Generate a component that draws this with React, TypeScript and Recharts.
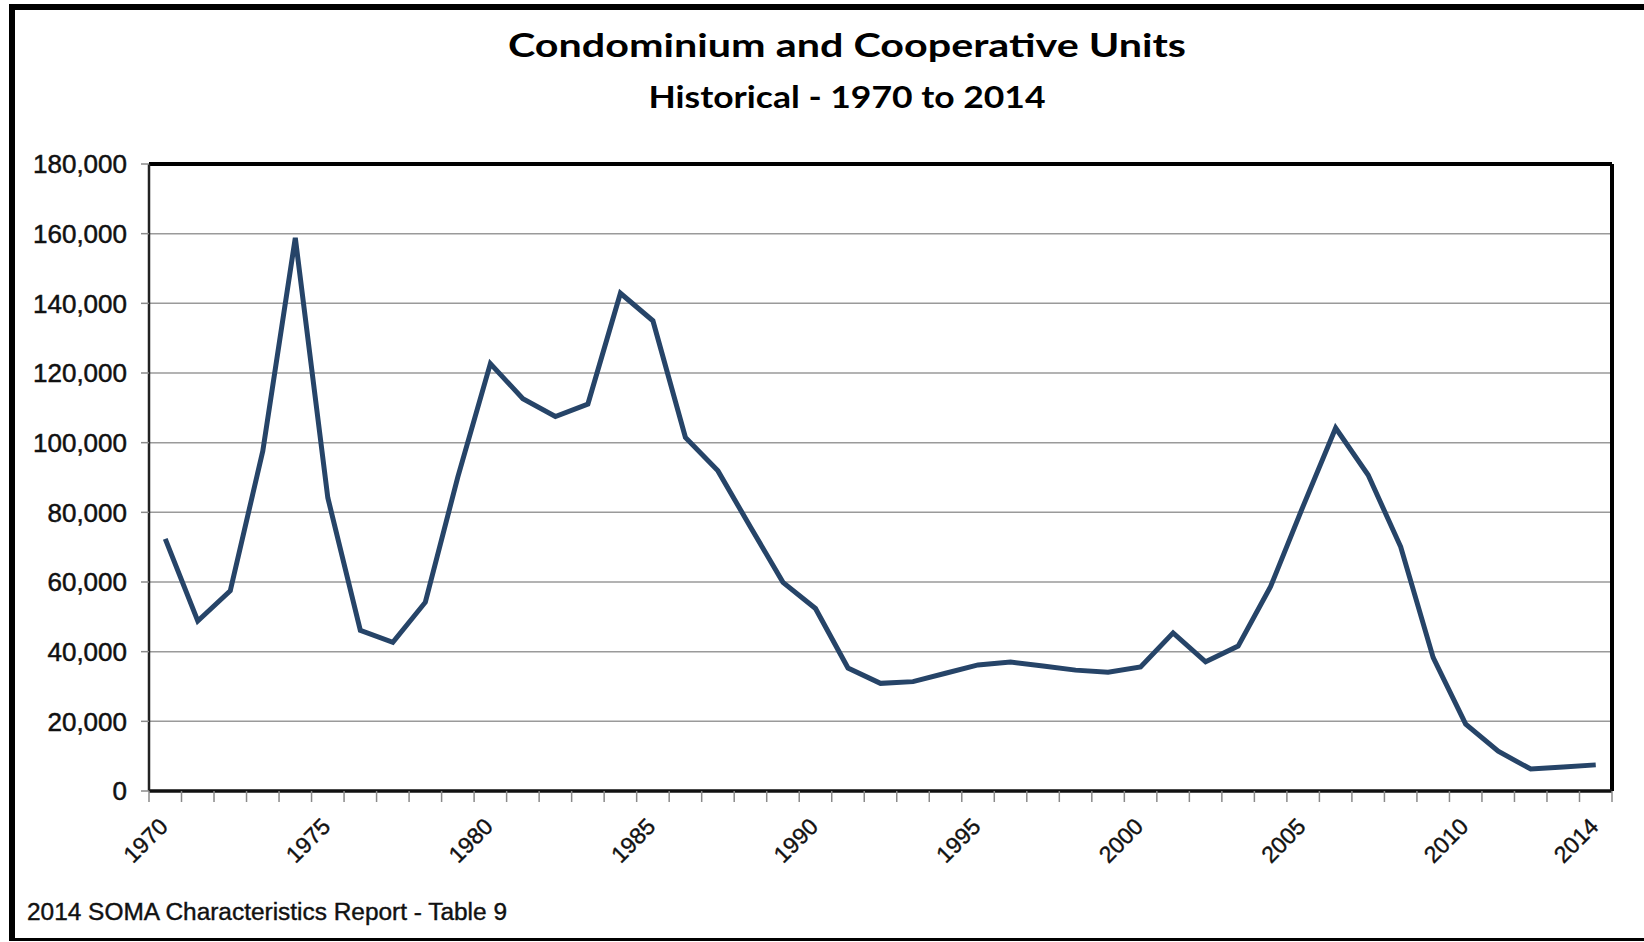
import React from "react";
import { LineChart, Line, XAxis, YAxis, CartesianGrid, ReferenceLine } from "recharts";

// Condominium and Cooperative Units, 1970-2014
const years = [
  1970, 1971, 1972, 1973, 1974, 1975, 1976, 1977, 1978, 1979,
  1980, 1981, 1982, 1983, 1984, 1985, 1986, 1987, 1988, 1989,
  1990, 1991, 1992, 1993, 1994, 1995, 1996, 1997, 1998, 1999,
  2000, 2001, 2002, 2003, 2004, 2005, 2006, 2007, 2008, 2009,
  2010, 2011, 2012, 2013, 2014,
];
const units = [
  72400, 48800, 57500, 97600, 158800, 84200, 46100, 42700, 54200, 90200,
  122700, 112600, 107500, 111100, 142900, 135000, 101500, 91900, 75800, 59900,
  52400, 35300, 30900, 31400, 33800, 36200, 37000, 35900, 34700, 34100,
  35600, 45400, 37100, 41600, 58700, 81800, 104200, 90700, 70100, 38300,
  19200, 11400, 6300, 6900, 7500,
];
const labelledYears = [1970, 1975, 1980, 1985, 1990, 1995, 2000, 2005, 2010, 2014];
const yTicks = [0, 20000, 40000, 60000, 80000, 100000, 120000, 140000, 160000, 180000];

const title = "Condominium  and  Cooperative  Units";
const subtitle = "Historical - 1970 to 2014";
const footer = "2014 SOMA Characteristics Report - Table 9";

const W = 1644;
const H = 942;
const margin = { top: 164, right: 32, bottom: 71, left: 49 };
const Y_AXIS_W = 100;
const X_AXIS_H = 80;
const plotLeft = margin.left + Y_AXIS_W;
const plotRight = W - margin.right;
const halfBand = (plotRight - plotLeft) / years.length / 2;

const data = years.map((year, i) => ({ year, units: units[i] }));
// tick marks sit between the years, like Excel's category axis
const xBoundaries = [...years.map((y) => y - 0.5), years[years.length - 1] + 0.5];

const fmt = (v: number) => v.toLocaleString("en-US");
const textFont = "'Liberation Sans', Arial, sans-serif";

function YearTick(props: any) {
  const { x, y, payload } = props;
  const year = Math.round(payload.value + 0.5);
  if (!labelledYears.includes(year)) return <g />;
  const tx = x + halfBand + 4;
  const ty = y + 26;
  return (
    <text
      x={tx}
      y={ty}
      textAnchor="end"
      transform={`rotate(-45, ${tx}, ${ty})`}
      fontFamily={textFont}
      fontSize={23}
      fill="#111"
      stroke="#111"
      strokeWidth={0.4}
    >
      {year}
    </text>
  );
}

export default function App() {
  return (
    <div style={{ position: "absolute", left: 0, top: 0, width: W, height: H, background: "#fff" }}>
      <LineChart width={W} height={H} data={data} margin={margin}>
        <CartesianGrid vertical={false} stroke="#9a9a9a" strokeWidth={1.5} />
        <XAxis
          dataKey="year"
          type="number"
          domain={[xBoundaries[0], xBoundaries[xBoundaries.length - 1]]}
          ticks={xBoundaries}
          interval={0}
          height={X_AXIS_H}
          tickSize={11}
          tickMargin={0}
          tickLine={{ stroke: "#8a8a8a", strokeWidth: 1.5 }}
          axisLine={{ stroke: "#111", strokeWidth: 3.5 }}
          tick={YearTick}
        />
        <YAxis
          type="number"
          domain={[0, 180000]}
          ticks={yTicks}
          interval={0}
          width={Y_AXIS_W}
          tickSize={8}
          tickMargin={14}
          tickFormatter={fmt}
          tickLine={{ stroke: "#8a8a8a", strokeWidth: 1.5 }}
          axisLine={{ stroke: "#222", strokeWidth: 2.5 }}
          tick={{ fontFamily: textFont, fontSize: 26, fill: "#111", stroke: "#111", strokeWidth: 0.5 }}
        />
        <ReferenceLine y={180000} stroke="#000" strokeWidth={4} />
        <ReferenceLine x={xBoundaries[xBoundaries.length - 1]} stroke="#000" strokeWidth={4} />
        <Line
          type="linear"
          dataKey="units"
          stroke="#264468"
          strokeWidth={5}
          dot={false}
          isAnimationActive={false}
        />
      </LineChart>
      <svg
        width={W}
        height={H}
        style={{ position: "absolute", left: 0, top: 0, pointerEvents: "none" }}
      >
        {/* outer frame: no right edge, as in the reference */}
        <rect x={9} y={4} width={W} height={6} fill="#000" />
        <rect x={9} y={4} width={6} height={936} fill="#000" />
        <rect x={9} y={938} width={W} height={3} fill="#000" />
        <text
          x={847}
          y={57}
          textAnchor="middle"
          fontFamily="Lato, 'Open Sans', sans-serif"
          fontWeight="bold"
          fontSize={32}
          textLength={678}
          lengthAdjust="spacingAndGlyphs"
          fill="#000"
        >
          {title}
        </text>
        <text
          x={847}
          y={108}
          textAnchor="middle"
          fontFamily="Lato, 'Open Sans', sans-serif"
          fontWeight="bold"
          fontSize={31}
          textLength={397}
          lengthAdjust="spacingAndGlyphs"
          fill="#000"
        >
          {subtitle}
        </text>
        <text
          x={27}
          y={920}
          fontFamily={textFont}
          fontSize={23}
          textLength={480}
          lengthAdjust="spacingAndGlyphs"
          fill="#111"
          stroke="#111"
          strokeWidth={0.4}
        >
          {footer}
        </text>
      </svg>
    </div>
  );
}
